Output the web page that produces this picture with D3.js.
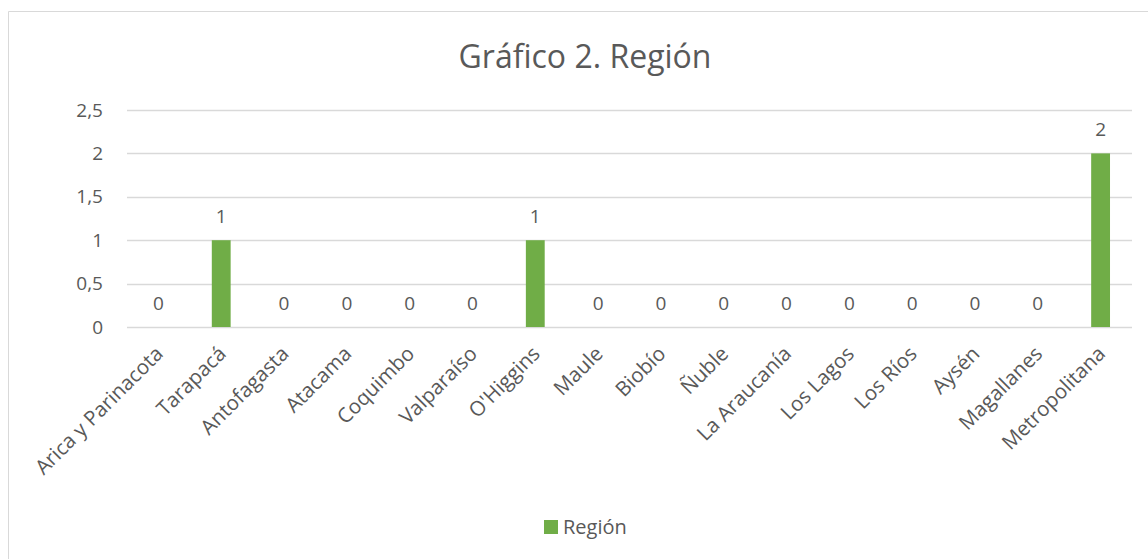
<!DOCTYPE html>
<html>
<head>
<meta charset="utf-8">
<script src="https://cdn.jsdelivr.net/npm/d3@7"></script>
<style>
  body { margin: 0; background: #fff; }
  svg { display: block; font-family: "Open Sans", sans-serif; }
</style>
</head>
<body>
<div id="chart"></div>
<script>
const categories = ['Arica y Parinacota', 'Tarapacá', 'Antofagasta', 'Atacama', 'Coquimbo', 'Valparaíso',
    "O'Higgins", 'Maule', 'Biobío', 'Ñuble', 'La Araucanía', 'Los Lagos', 'Los Ríos', 'Aysén',
    'Magallanes', 'Metropolitana'];
const values = [0, 1, 0, 0, 0, 0, 1, 0, 0, 0, 0, 0, 0, 0, 0, 2];
const yTicks = [0, 0.5, 1, 1.5, 2, 2.5];
const seriesName = 'Región';
const title = 'Gráfico 2. Región';

const width = 1148;
const height = 559;
const margin = { top: 110, right: 16, bottom: 232, left: 127 };
const textColor = '#595959';
const barColor = '#70AD47';
const fontFamily = '"Open Sans", sans-serif';

const svg = d3.select('#chart')
    .append('svg')
    .attr('width', width)
    .attr('height', height);

// chart area border (only top and left edges visible)
svg.append('path')
    .attr('d', 'M8.5,559 V11.5 H1148')
    .attr('fill', 'none')
    .attr('stroke', '#d9d9d9')
    .attr('stroke-width', 1);

const x = d3.scaleBand()
    .domain(categories)
    .range([margin.left, width - margin.right])
    .paddingInner(0.7)
    .paddingOuter(0.35);

const y = d3.scaleLinear()
    .domain([0, 2.5])
    .range([height - margin.bottom, margin.top]);

const fmt = d => String(d).replace('.', ',');

// gridlines
svg.append('g')
    .selectAll('line')
    .data(yTicks)
    .enter()
    .append('line')
    .attr('x1', margin.left)
    .attr('x2', width - margin.right)
    .attr('y1', d => Math.round(y(d)) + 0.5)
    .attr('y2', d => Math.round(y(d)) + 0.5)
    .attr('stroke', '#d9d9d9')
    .attr('stroke-width', 1.3);

// y axis labels
const yAxis = svg.append('g')
    .attr('transform', `translate(${margin.left - 24},0)`)
    .call(d3.axisLeft(y).tickValues(yTicks).tickFormat(fmt).tickSize(0).tickPadding(0))
    .attr('font-family', fontFamily)
    .attr('font-size', 19);
yAxis.select('.domain').remove();
yAxis.selectAll('text')
    .attr('fill', textColor);

// bars
svg.append('g')
    .selectAll('rect')
    .data(values)
    .enter()
    .append('rect')
    .attr('x', (d, i) => x(categories[i]))
    .attr('y', d => y(d))
    .attr('width', x.bandwidth())
    .attr('height', d => y(0) - y(d))
    .attr('fill', barColor);

// data labels
svg.append('g')
    .selectAll('text')
    .data(values)
    .enter()
    .append('text')
    .text(d => fmt(d))
    .attr('x', (d, i) => x(categories[i]) + x.bandwidth() / 2)
    .attr('y', d => y(d) - 17)
    .attr('text-anchor', 'middle')
    .attr('fill', textColor)
    .style('font-size', '19px');

// x axis labels
const xAxis = svg.append('g')
    .attr('transform', `translate(0,${y(0)})`)
    .call(d3.axisBottom(x).tickSize(0).tickPadding(0))
    .attr('font-family', fontFamily)
    .attr('font-size', 20.5);
xAxis.select('.domain').remove();
xAxis.selectAll('text')
    .attr('fill', textColor)
    .attr('text-anchor', 'end')
    .attr('dy', 0)
    .attr('transform', 'translate(6,28) rotate(-45)');

// title
svg.append('text')
    .text(title)
    .attr('x', 585)
    .attr('y', 68)
    .attr('text-anchor', 'middle')
    .attr('fill', textColor)
    .style('font-size', '32px');

// legend
const legend = svg.append('g')
    .attr('transform', 'translate(544,520)');
legend.append('rect')
    .attr('width', 14)
    .attr('height', 14)
    .attr('fill', barColor);
legend.append('text')
    .text(seriesName)
    .attr('x', 19)
    .attr('y', 14)
    .attr('fill', textColor)
    .style('font-size', '20px');
</script>
</body>
</html>
